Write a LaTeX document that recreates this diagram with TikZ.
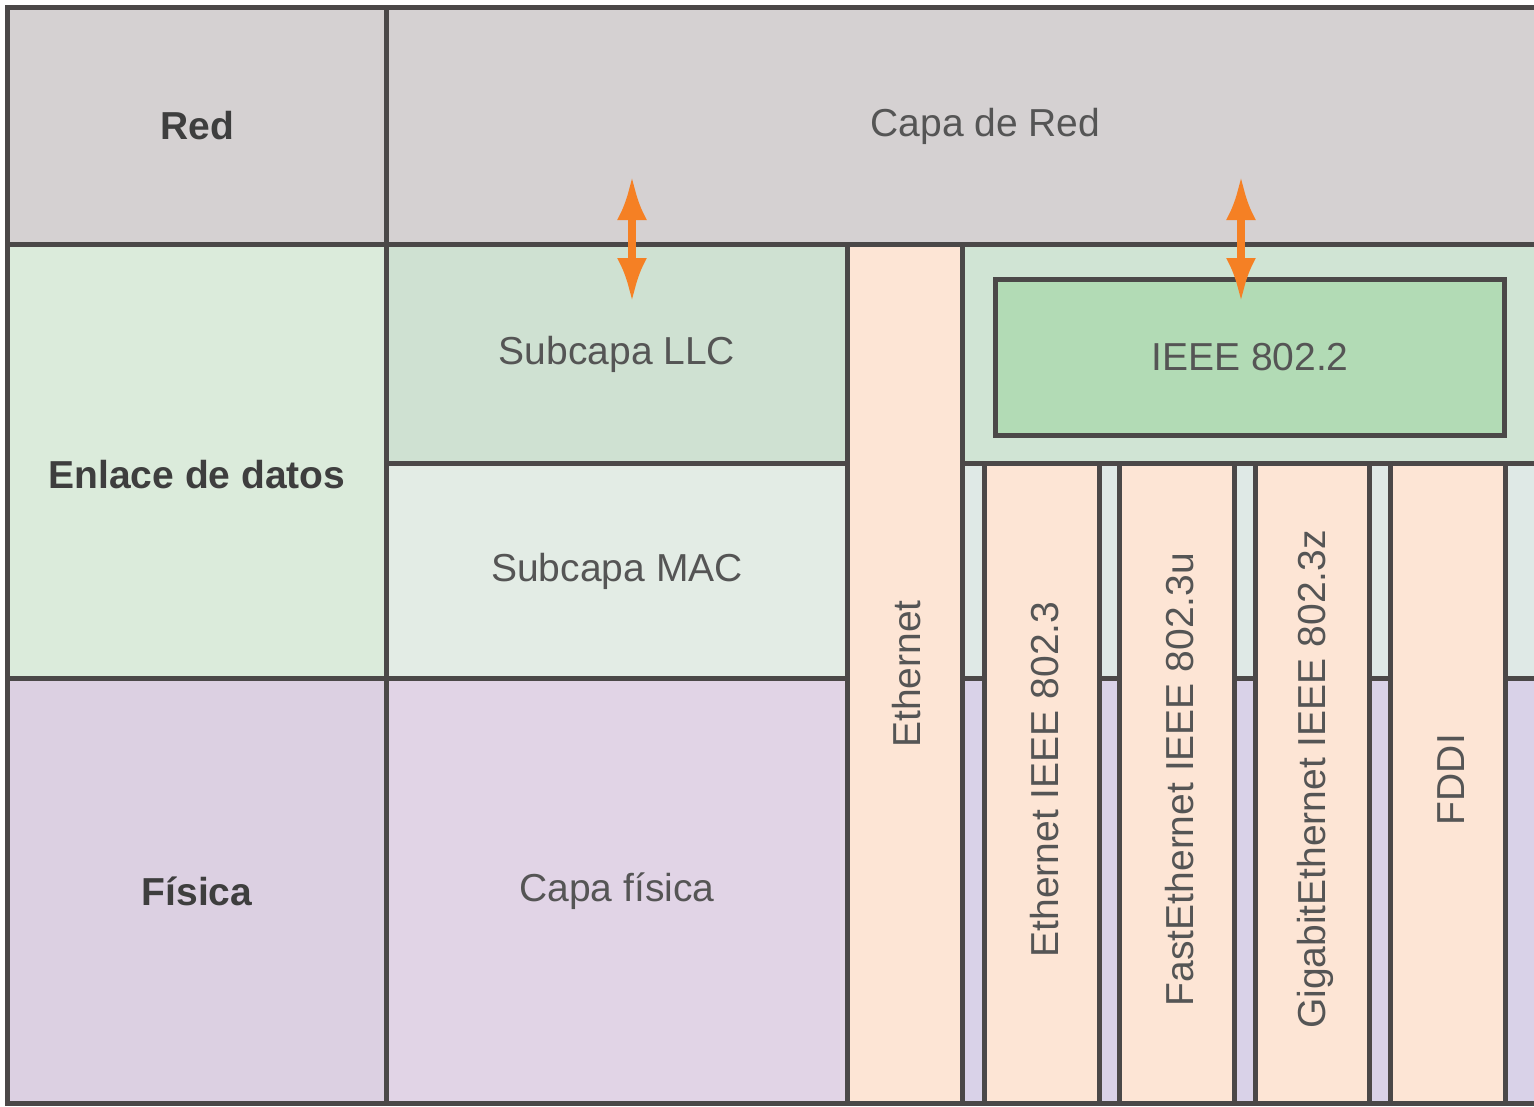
\documentclass[tikz,border=0pt]{standalone}
\usepackage{fontspec}
\setmainfont{Liberation Sans}
\usetikzlibrary{arrows.meta}
\definecolor{linec}{HTML}{4B4848}
\definecolor{graycell}{HTML}{D5D1D2}
\definecolor{enlacec}{HTML}{DBEBDB}
\definecolor{llcc}{HTML}{CFE1D2}
\definecolor{macc}{HTML}{E3ECE5}
\definecolor{fisc}{HTML}{DCD0E2}
\definecolor{capafisc}{HTML}{E1D4E6}
\definecolor{peach}{HTML}{FDE5D5}
\definecolor{ieeec}{HTML}{B2DBB5}
\definecolor{upperc}{HTML}{D0E4D4}
\definecolor{stripg}{HTML}{DFE9E6}
\definecolor{stripl}{HTML}{D9D2E8}
\definecolor{orangec}{HTML}{F58024}
\definecolor{txtc}{HTML}{555555}
\definecolor{boldc}{HTML}{3E3E3E}
\tikzset{
  cell/.style={draw=linec, line width=5pt, inner sep=0pt, anchor=north west,
    text=txtc, font=\fontsize{39}{47}\selectfont},
  boldcell/.style={cell, text=boldc, font=\fontsize{39}{47}\selectfont\bfseries},
  boldlabel/.style={inner sep=0pt, text=boldc, font=\fontsize{39}{47}\selectfont\bfseries},
  vlabel/.style={rotate=90, inner sep=0pt, text=txtc, font=\fontsize{39}{47}\selectfont},
  dblarrow/.style={draw=orangec, line width=8pt,
    {Latex[length=44pt,width=30pt]}-{Latex[length=44pt,width=30pt]}}
}
\begin{document}
\begin{tikzpicture}[x=1pt,y=-1pt]
\clip (0,0) rectangle (1534,1106);
\fill[white] (0,0) rectangle (1534,1106);
% left column
\node[boldcell, fill=graycell, minimum width=379pt, minimum height=237pt] (red) at (5,5) {Red};
\node[boldcell, fill=enlacec, minimum width=379pt, minimum height=434pt] (enlace) at (5,242) {};
\node[boldlabel] (enlacelbl) at ([yshift=-13pt]enlace.center) {Enlace de datos};
\node[boldcell, fill=fisc, minimum width=379pt, minimum height=425pt] (fisica) at (5,676) {Física};
% top right
\node[cell, fill=graycell, minimum width=1198pt, minimum height=237pt] (capared) at (384,5) {Capa de Red};
% middle column
\node[cell, fill=llcc, minimum width=461pt, minimum height=219pt] (llc) at (384,242) {Subcapa LLC};
\node[cell, fill=macc, minimum width=461pt, minimum height=215pt] (mac) at (384,461) {Subcapa MAC};
\node[cell, fill=capafisc, minimum width=461pt, minimum height=425pt] (capafis) at (384,676) {Capa física};
% ethernet column
\node[cell, fill=peach, minimum width=115pt, minimum height=859pt] (eth) at (845,242) {};
\node[vlabel] (ethlbl) at ([xshift=2pt]eth.center) {Ethernet};
% right region
\node[cell, fill=upperc, minimum width=600pt, minimum height=219pt] (upper) at (960,242) {};
\node[cell, fill=ieeec, minimum width=509pt, minimum height=156pt] (ieee) at (993,277) {IEEE 802.2};
\node[cell, fill=stripg, minimum width=600pt, minimum height=215pt] (stripmac) at (960,461) {};
\node[cell, fill=stripl, minimum width=600pt, minimum height=425pt] (stripfis) at (960,676) {};
% protocol columns
\node[cell, fill=peach, minimum width=115pt, minimum height=640pt] (c1) at (982,461) {};
\node[cell, fill=peach, minimum width=115pt, minimum height=640pt] (c2) at (1117,461) {};
\node[cell, fill=peach, minimum width=114pt, minimum height=640pt] (c3) at (1253,461) {};
\node[cell, fill=peach, minimum width=115pt, minimum height=640pt] (c4) at (1388,461) {};
\node[vlabel] (l1) at ([xshift=3pt,yshift=4pt]c1.center) {Ethernet IEEE 802.3};
\node[vlabel] (l2) at ([xshift=3pt,yshift=4pt]c2.center) {FastEthernet IEEE 802.3u};
\node[vlabel] (l3) at ([xshift=3pt,yshift=4pt]c3.center) {GigabitEthernet IEEE 802.3z};
\node[vlabel] (l4) at ([xshift=3pt,yshift=4pt]c4.center) {FDDI};
% arrows
\coordinate (a1s) at (632,176);
\coordinate (a1e) at (632,302);
\coordinate (a2s) at (1241,176);
\coordinate (a2e) at (1241,302);
\draw[dblarrow] (a1s) -- (a1e);
\draw[dblarrow] (a2s) -- (a2e);
\end{tikzpicture}
\end{document}
